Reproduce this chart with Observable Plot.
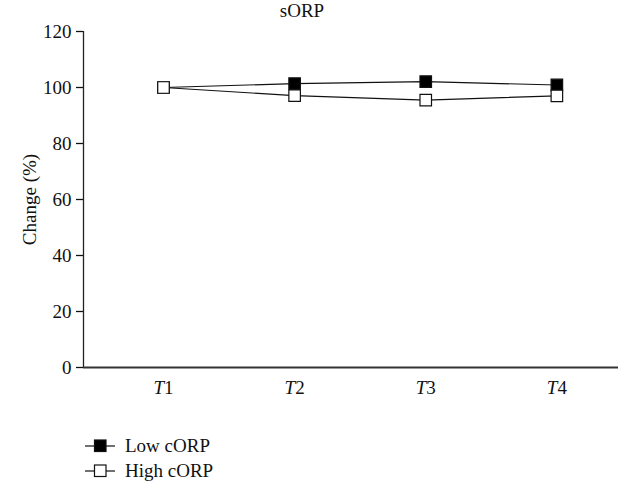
<!DOCTYPE html>
<html>
<head>
<meta charset="utf-8">
<script src="https://cdn.jsdelivr.net/npm/d3@7"></script>
<script src="https://cdn.jsdelivr.net/npm/@observablehq/plot@0.6"></script>
<style>
  body { margin: 0; background: #fff; font-family: "Liberation Serif", serif; }
  #wrap { position: relative; width: 618px; }
  #title { position: absolute; top: 0px; left: 0; width: 604px; text-align: center; font-size: 19px; color: #111; z-index: 2; }
  #chart svg { display: block; }
  #legend { padding-left: 84px; padding-top: 23px; font-size: 19px; color: #111; }
  .li { display: flex; align-items: center; height: 25px; }
  .li svg { margin-right: 8px; }
</style>
</head>
<body>
<div id="wrap">
  <div id="title">sORP</div>
  <div id="chart"></div>
  <div id="legend"></div>
</div>
<script>
const timepoints = [1, 2, 3, 4];
const tickLabels = ["1", "2", "3", "4"];
const seriesNames = ["Low cORP", "High cORP"];
const lowValues = [100, 101.4, 102.1, 100.9];
const highValues = [100, 97.1, 95.5, 97.0];
const yTicks = [0, 20, 40, 60, 80, 100, 120];

const rows = [];
timepoints.forEach((t, i) => rows.push({t, v: lowValues[i], s: seriesNames[0]}));
timepoints.forEach((t, i) => rows.push({t, v: highValues[i], s: seriesNames[1]}));
const fills = {"Low cORP": "#000", "High cORP": "#fff"};

const xDomain = [0.39, 4.47];
const plot = Plot.plot({
  width: 618,
  height: 410,
  marginLeft: 83,
  marginRight: 0,
  marginTop: 31,
  marginBottom: 43,
  style: {fontFamily: "Liberation Serif, serif", fontSize: "19px", color: "#111", background: "#fff", overflow: "visible"},
  x: {domain: xDomain},
  y: {domain: [0, 120]},
  marks: [
    Plot.axisY({ticks: yTicks, tickSize: 7, tickPadding: 5, label: "Change (%)", labelAnchor: "center", labelArrow: "none", labelOffset: 61, strokeWidth: 1.3, fontSize: 19}),
    Plot.axisX({ticks: timepoints, tickFormat: (d, i) => "T" + tickLabels[i], tickSize: 0, tickPadding: 13, label: null, fontSize: 19}),
    Plot.ruleX([xDomain[0]], {stroke: "#222", strokeWidth: 1.3}),
    Plot.ruleY([0], {stroke: "#333", strokeWidth: 2}),
    Plot.line(rows.filter(d => d.s === seriesNames[0]), {x: "t", y: "v", stroke: "#111", strokeWidth: 1.2}),
    Plot.line(rows.filter(d => d.s === seriesNames[1]), {x: "t", y: "v", stroke: "#111", strokeWidth: 1.2}),
    Plot.dot(rows.filter(d => d.s === seriesNames[0]), {x: "t", y: "v", symbol: "square", r: 6.5, fill: "#000", stroke: "#111", strokeWidth: 1.2}),
    Plot.dot(rows.filter(d => d.s === seriesNames[1]), {x: "t", y: "v", symbol: "square", r: 6.5, fill: "#fff", stroke: "#111", strokeWidth: 1.2})
  ]
});
document.getElementById("chart").appendChild(plot);

// italic "T" in x tick labels
d3.select(plot).selectAll("[aria-label='x-axis tick label'] text").each(function() {
  const el = d3.select(this);
  const txt = el.text();
  el.text(null);
  el.append("tspan").attr("font-style", "italic").text(txt.slice(0, 1));
  el.append("tspan").text(txt.slice(1));
});

// legend
const legend = d3.select("#legend");
seriesNames.forEach(name => {
  const item = legend.append("div").attr("class", "li");
  const s = item.append("svg").attr("width", 33).attr("height", 20);
  s.append("line").attr("x1", 1).attr("x2", 31).attr("y1", 10).attr("y2", 10).attr("stroke", "#111").attr("stroke-width", 1.2);
  s.append("rect").attr("x", 10.5).attr("y", 4).attr("width", 11.5).attr("height", 11.5).attr("fill", fills[name]).attr("stroke", "#111").attr("stroke-width", 1.2);
  item.append("span").text(name);
});
</script>
</body>
</html>
